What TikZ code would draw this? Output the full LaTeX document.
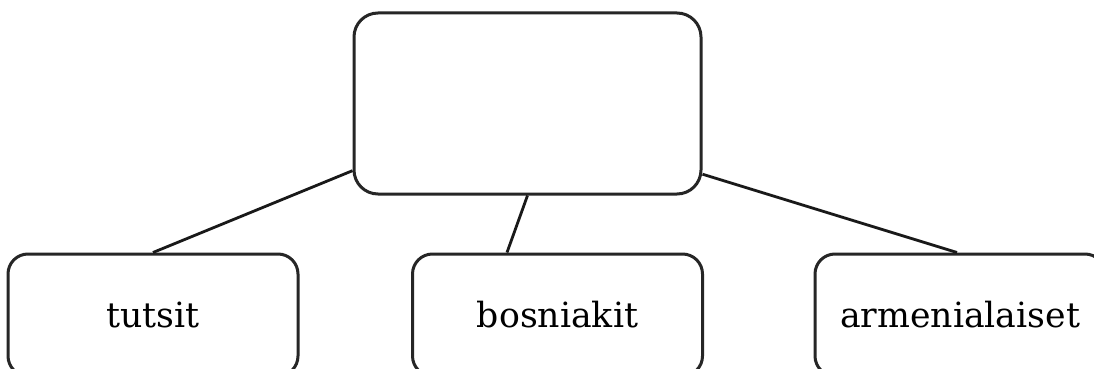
\documentclass[tikz,border=0pt]{standalone}
\usepackage{fontspec}
\setmainfont{DejaVu Serif}
\begin{document}
\begin{tikzpicture}[x=1pt,y=-1pt,
  box/.style={draw=black!85,line width=3pt,rounded corners=24pt,fill=white,inner sep=0pt,
    font=\fontsize{34.7}{40}\selectfont},
  topbox/.style={box,minimum width=347pt,minimum height=181pt},
  leafbox/.style={box,minimum width=290pt,minimum height=122pt,rounded corners=20pt},
  link/.style={draw=black!90,line width=2.8pt}]
\useasboundingbox[fill=white] (0,0) rectangle (1094,369);
\node[topbox] (top) at (527.5,103.5) {};
\node[leafbox] (left) at (153,315) {tutsit};
\node[leafbox] (mid) at (557.5,315) {bosniakit};
\node[leafbox] (right) at (960,315) {armenialaiset};
\draw[link] (top.201.8) -- (left.north);
\draw[link] (top.south) -- ([xshift=-50.5pt]mid.north);
\draw[link] (top.-22.1) -- ([xshift=-3pt]right.north);
\end{tikzpicture}
\end{document}
